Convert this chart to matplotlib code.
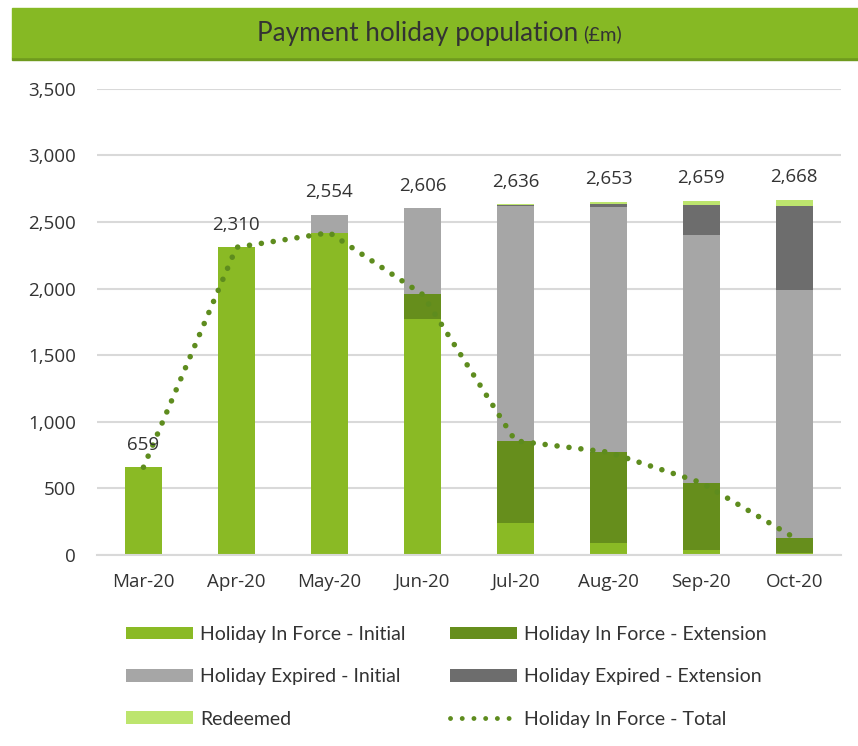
import numpy as np
import matplotlib
matplotlib.use("Agg")
import matplotlib.pyplot as plt
from matplotlib.patches import Rectangle, Patch
from matplotlib.lines import Line2D

months = ["Mar-20", "Apr-20", "May-20", "Jun-20", "Jul-20", "Aug-20", "Sep-20", "Oct-20"]
force_initial = [659, 2310, 2420, 1770, 240, 90, 40, 15]
force_extension = [0, 0, 0, 187, 617, 682, 503, 115]
expired_initial = [0, 0, 134, 649, 1765, 1838, 1857, 1858]
expired_extension = [0, 0, 0, 0, 3, 22, 228, 632]
redeemed = [0, 0, 0, 0, 11, 21, 31, 48]
totals = [659, 2310, 2554, 2606, 2636, 2653, 2659, 2668]
force_total = [659, 2310, 2420, 1957, 857, 772, 543, 130]

series = [
    ("Holiday In Force - Initial", force_initial, "#8aba25"),
    ("Holiday In Force - Extension", force_extension, "#668e1c"),
    ("Holiday Expired - Initial", expired_initial, "#a6a6a6"),
    ("Holiday Expired - Extension", expired_extension, "#6d6d6d"),
    ("Redeemed", redeemed, "#bde56e"),
]

plt.rcParams['font.family'] = ['Open Sans', 'DejaVu Sans']
text_col = "#333333"
dot_style = (0, (0.01, 2.15))

fig = plt.figure(figsize=(8.58, 7.46), dpi=100)
ax = fig.add_axes([0.113, 0.256, 0.867, 0.625])

x = np.arange(len(months))
bottom = np.zeros(len(months))
handles = {}
for name, vals, col in series:
    vals = np.array(vals, dtype=float)
    ax.bar(x, vals, 0.4, bottom=bottom, color=col, zorder=2)
    handles[name] = Patch(facecolor=col, label=name)
    bottom += vals

ax.plot(x, force_total, color="#5e8c1e", lw=4, ls=dot_style,
        dash_capstyle="round", zorder=3)
handles["Holiday In Force - Total"] = Line2D([], [], color="#5e8c1e", lw=3.5,
                                            ls=(0, (0.01, 2.4)), dash_capstyle="round",
                                            label="Holiday In Force - Total")

for xi, t in zip(x, totals):
    ax.text(xi, t + 100, f"{t:,}", ha="center", va="bottom", fontsize=13.5, color=text_col, zorder=4)

ax.set_ylim(0, 3500)
ax.set_xlim(-0.5, 7.5)
ax.set_yticks(np.arange(0, 3501, 500))
ax.set_yticklabels([f"{v:,}" for v in range(0, 3501, 500)])
ax.set_xticks(x)
ax.set_xticklabels(months)
ax.tick_params(length=0, labelsize=13.5, colors=text_col)
ax.tick_params(axis="x", pad=13)
ax.tick_params(axis="y", pad=15)
ax.grid(axis="y", color="#d9d9d9", lw=1.5, zorder=0)
for s in ["left", "right", "top"]:
    ax.spines[s].set_visible(False)
ax.spines["bottom"].set_color("#d9d9d9")
ax.spines["bottom"].set_linewidth(1.5)

# title banner
fig.patches.append(Rectangle((12 / 858, 1 - 60 / 746), 1, 3 / 746, transform=fig.transFigure,
                             color="#6f9a1e", zorder=0))
fig.patches.append(Rectangle((12 / 858, 1 - 57 / 746), 1, 49 / 746, transform=fig.transFigure,
                             color="#86b924", zorder=1))
fig.text(578 / 858, 1 - 33 / 746, "Payment holiday population", ha="right", va="center",
         fontsize=18.8, color=text_col, family=["Lato", "DejaVu Sans"])
fig.text(583 / 858, 1 - 34 / 746, "(£m)", ha="left", va="center", fontsize=14.5,
         color=text_col, family=["Lato", "DejaVu Sans"])

order = ["Holiday In Force - Initial", "Holiday Expired - Initial", "Redeemed",
         "Holiday In Force - Extension", "Holiday Expired - Extension", "Holiday In Force - Total"]
fig.legend([handles[k] for k in order], order, ncol=2, loc="upper left",
           bbox_to_anchor=(126 / 858, 1 - 626 / 746), frameon=False,
           prop={"family": ["Lato", "DejaVu Sans"], "size": 14},
           labelcolor=text_col, handlelength=3.45, handleheight=0.62, handletextpad=0.36,
           labelspacing=1.3, columnspacing=2.27, borderaxespad=0, borderpad=0)

fig.savefig("out.png", dpi=100)
